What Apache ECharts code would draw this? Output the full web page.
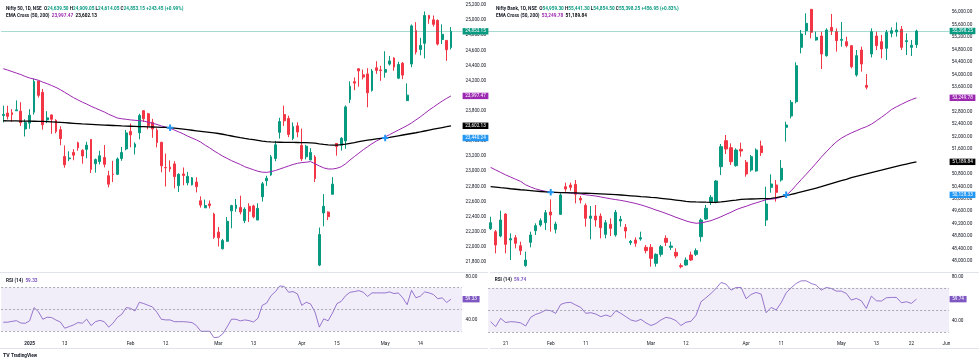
<!DOCTYPE html>
<html>
<head>
<meta charset="utf-8">
<script src="https://cdn.jsdelivr.net/npm/echarts@6.0.0/dist/echarts.min.js"></script>
<style>
html,body{margin:0;padding:0;background:#fff;}
#chart{width:980px;height:363px;}
</style>
</head>
<body>
<div id="chart"></div>
<script>
// ---------------- DATA ----------------
const niftyDates = ['12-23','12-24','12-26','12-27','12-30','12-31','01-01','01-02','01-03','01-06','01-07','01-08','01-09','01-10','01-13','01-14','01-15','01-16','01-17','01-20','01-21','01-22','01-23','01-24','01-27','01-28','01-29','01-30','01-31','02-01','02-03','02-04','02-05','02-06','02-07','02-10','02-11','02-12','02-13','02-14','02-17','02-18','02-19','02-20','02-21','02-24','02-25','02-27','02-28','03-03','03-04','03-05','03-06','03-07','03-10','03-11','03-12','03-13','03-17','03-18','03-19','03-20','03-21','03-24','03-25','03-26','03-27','03-28','04-01','04-02','04-03','04-04','04-07','04-08','04-09','04-11','04-15','04-16','04-17','04-21','04-22','04-23','04-24','04-25','04-28','04-29','04-30','05-02','05-05','05-06','05-07','05-08','05-09','05-12','05-13','05-14','05-15','05-16','05-19','05-20','05-21','05-22','05-23'];
const niftyFuture = ['05-26','05-27'];
const niftyOpen = [23738,23770,23775,23801,23796,23560,23637,23783,24196,24045,23679,23746,23674,23551,23195,23165,23250,23377,23277,23290,23421,23099,23128,23183,22941,22961,22960,23169,23296,23528,23319,23509,23802,23761,23649,23543,23383,23050,23055,23097,22809,22964,22847,22821,22857,22609,22516,22568,22433,22194,21974,22073,22476,22508,22521,22345,22536,22541,22354,22662,22874,22951,23169,23515,23751,23700,23434,23601,23342,23192,23150,23190,21758,22447,22460,22695,23368,23345,23402,23949,24186,24357,24277,24289,24070,24370,24342,24311,24419,24500,24233,24431,23935,24420,24864,24613,24694,25064,25005,24997,24744,24733,24639.5];
const niftyHigh = [23869,23867,23822,23938,23915,23689,23822,24226,24196,24089,23795,23751,23689,23596,23341,23264,23293,23391,23292,23391,23426,23169,23271,23347,23007,23138,23183,23322,23546,23633,23382,23762,23807,23773,23694,23569,23391,23235,23144,23133,22974,23050,22992,22924,22921,22668,22625,22613,22450,22261,22105,22394,22556,22633,22677,22522,22577,22558,22577,22858,22940,23216,23402,23708,23869,23736,23646,23649,23565,23350,23306,23214,22255,22698,22468,22923,23368,23452,23872,24190,24242,24359,24347,24365,24355,24457,24396,24589,24526,24509,24449,24447,24164,24944,24974,24767,25116,25071,25062,25011,24946,24737,24909.05];
const niftyLow = [23647,23685,23653,23800,23600,23460,23562,23751,23976,23551,23637,23496,23503,23344,23047,23134,23146,23272,23100,23171,22976,22982,23090,23051,22787,22857,22950,23139,23277,23318,23222,23423,23652,23556,23443,23316,22986,22798,22992,22774,22726,22814,22814,22812,22720,22518,22513,22508,22105,22005,21965,22068,22245,22464,22429,22314,22329,22377,22354,22599,22807,22939,23133,23433,23601,23452,23412,23450,23136,23158,23145,22858,21744,22271,22353,22695,23207,23273,23298,23903,24073,24119,24216,23847,24055,24290,24198,24238,24400,24331,24220,24220,23935,24378,24547,24535,24494,24953,24916,24666,24685,24462,24614.05];
const niftyClose = [23753,23727,23750,23813,23644,23645,23742,24188,24005,23616,23707,23689,23527,23432,23086,23176,23213,23312,23203,23345,23025,23155,23205,23092,22829,22957,23163,23249,23508,23482,23361,23739,23696,23603,23560,23381,23072,23045,23031,22929,22960,22945,22933,22913,22796,22553,22547,22545,22125,22119,22083,22337,22545,22553,22461,22498,22470,22397,22509,22834,22907,23191,23350,23658,23668,23487,23592,23519,23165,23332,23250,22904,22162,22536,22399,22829,23328,23437,23852,24125,24167,24329,24247,24039,24328,24336,24334,24347,24461,24380,24414,24273,24008,24925,24578,24666,25062,25020,24945,24684,24813,24609.7,24853.15];
const niftyEma50 = [24358,24340,24320,24300,24280,24255,24235,24221,24205,24180,24160,24135,24110,24080,24045,24010,23975,23945,23915,23890,23860,23835,23810,23785,23755,23730,23705,23695,23688,23680,23675,23670,23665,23650,23635,23620,23600,23585,23570,23545,23520,23495,23465,23440,23415,23385,23345,23310,23270,23235,23200,23170,23140,23115,23090,23060,23040,23020,23000,22988,22985,22995,23010,23030,23050,23070,23090,23105,23115,23120,23128,23100,23070,23045,23030,23030,23040,23060,23100,23150,23195,23240,23285,23325,23365,23400,23430,23455,23485,23515,23545,23575,23605,23640,23680,23720,23765,23810,23850,23890,23930,23965,23997.47];
const niftyEma200 = [23669,23668,23667,23666,23665,23664,23663,23662,23661,23660,23658,23655,23651,23647,23643,23639,23635,23631,23627,23624,23621,23618,23615,23612,23609,23606,23603,23600,23598,23596,23594,23592,23590,23588,23586,23584,23582,23580,23576,23570,23564,23557,23550,23543,23536,23529,23522,23515,23508,23500,23490,23478,23467,23456,23445,23435,23426,23418,23410,23400,23393,23388,23385,23384,23383,23382,23382,23381,23380,23379,23377,23372,23362,23355,23349,23346,23347,23352,23360,23370,23380,23391,23402,23411,23420,23428,23435,23441,23450,23460,23470,23480,23490,23500,23510,23521,23533,23545,23557,23568,23579,23590,23602.13];
const niftyRsi = [38.2,38.2,39,39.6,37.5,37.2,39.5,51.6,47.9,40.9,42.8,42.5,40.2,38.4,32.7,34.2,35.7,37.9,37.3,41,35.1,38.7,39.9,38.7,33.7,37.3,42.7,45.5,51.6,51,48.5,56.5,55.3,53.7,52.2,47.3,40.9,40.3,40.3,38.7,38.7,38.7,38.4,37.9,35.1,29.9,29.9,29.9,24,24.5,27.5,34,41,40.9,39.4,40.3,39.7,38.4,41.8,53.7,55.8,62.6,66.3,71.5,71,65.7,66.3,64.2,53.7,56.5,55,47.6,33.7,41.3,39.5,46.7,55.2,57.4,62.6,65.7,66.3,67.2,65.7,61.9,65.1,65.1,65.1,65.1,66,64.5,65.1,60.6,54.3,67.5,60.6,62.1,66,65.1,63.6,59.7,60.6,56.3,59.33];
const niftyCrossDates = ['02-13','05-02'];
const niftyCrossValues = [23576, 23440.24];
const niftyTickDates = ['01-01','01-13','02-01','02-12','03-03','03-13','04-01','04-15','05-02','05-14'];
const niftyTickLabels = ['2025','13','Feb','12','Mar','13','Apr','15','May','14'];

const bankDates = ['01-16','01-17','01-20'].concat(niftyDates.slice(20));
const bankFuture = ['05-26','05-27','05-28','05-29','05-30','06-02'];
const bankOpen = [49040,48944,48804,49512,48676,48751,48494,47851,48601,48976,49158,49233,49576,49019,49501,50391,50445,50466,50016,49791,49373,49448,49448,48858,49180,48837,49287,49083,48590,48676,48708,48440,48440,47926,48215,48729,48440,48279,47851,47872,48193,48215,48783,49351,49909,49909,51035,51871,51646,51067,51592,51174,50927,50895,51699,49319,50370,50445,50606,52300,52664,53125,54873,55409,56095,55109,55238,54605,55516,55377,55098,55055,54927,53983,54787,53650,54659,55238,55055,54841,55323,55366,55452,55055,54873,54959.3];
const bankHigh = [49426,48997,49619,49534,48890,48837,48622,48301,48944,49212,49373,49641,49984,49266,50177,50520,50520,50606,50091,49855,49769,49802,49534,49319,49373,49641,49448,49190,48676,48762,48944,48515,48547,48247,48515,48826,48622,48408,47926,48118,48301,48408,49373,49802,50123,50606,51764,52053,51785,51624,51807,51249,51410,51624,51871,50391,50788,50606,51249,52482,53179,54391,55431,55967,56098,55377,55377,55484,55945,55484,55688,55216,54948,54787,54895,54015,55484,55377,55270,55431,55516,55677,55559,55323,55109,55441.3];
const bankLow = [48998,48247,48762,48247,48033,48408,48193,47818,48440,48837,49105,48997,48944,48890,49480,50231,50263,49855,49855,49105,48697,49105,48729,48729,48804,48783,49105,48729,48515,48461,48654,48247,47818,47818,48140,48483,48354,48086,47765,47851,48000,48161,48622,49319,49802,49855,50767,51442,51088,51035,51356,50713,50874,50874,51378,49126,50198,49909,50552,51839,52589,53072,54680,55270,55163,55088,54176,54573,55270,54734,54895,54873,54198,53930,54090,53522,54551,54787,54519,54466,55195,55216,54787,54627,54594,54854.5];
const bankClose = [49233,48515,49319,48536,48719,48569,48333,48033,48837,49137,49298,49555,49480,49190,50123,50316,50370,50145,49962,49373,49448,49319,49073,49233,49051,49566,49341,48965,48633,48569,48751,48333,48086,48215,48461,48601,48483,48161,47818,48033,48033,48333,49319,49694,50048,50573,51678,51603,51195,51571,51539,50799,51356,51571,51485,49834,50477,50209,50981,52375,53104,54283,55302,55645,55356,55195,54659,55431,55399,55088,55130,54927,54251,54605,54337,53590,55377,54927,54820,55356,55409,55431,54873,55088,54941.3,55398.25];
const bankEma50 = [51013,50930,50850,50770,50700,50630,50560,50450,50380,50320,50275,50240,50210,50205,50200,50198,50190,50175,50155,50130,50110,50090,50060,50030,50000,49975,49950,49920,49885,49850,49805,49755,49700,49640,49590,49530,49470,49405,49350,49290,49245,49215,49225,49260,49300,49360,49425,49500,49570,49650,49710,49760,49820,49870,49920,49975,49990,50010,50060,50110,50260,50440,50620,50790,50970,51150,51340,51510,51680,51830,51950,52040,52120,52190,52260,52320,52400,52510,52620,52740,52870,52960,53040,53120,53190,53249.78];
const bankEma200 = [50391,50375,50358,50342,50325,50309,50292,50278,50264,50250,50236,50222,50210,50206,50202,50198,50194,50190,50185,50180,50173,50165,50157,50149,50141,50133,50124,50111,50098,50085,50072,50060,50048,50037,50018,49999,49980,49960,49940,49918,49905,49900,49896,49892,49889,49887,49900,49920,49940,49960,49984,49990,49995,50000,50005,50010,50016,50040,50070,50100,50140,50180,50222,50264,50306,50348,50390,50438,50486,50534,50582,50630,50680,50720,50760,50800,50840,50880,50920,50965,51005,51045,51085,51120,51155,51189.84];
const bankRsi = [39.4,34.9,42.4,38.6,39.4,39.1,38.3,35.5,43.3,46,47.5,49.9,49.3,46.9,55,56.5,56.8,54.4,52.3,46.9,47.5,46.3,43.9,45.4,43.9,49.3,46.9,43.9,40.9,39.7,41.5,38.3,35.9,37.7,40.9,43.3,42.4,40.3,35.9,38.9,39.7,45.1,57.4,61,64.9,69.4,74.8,73.3,67.9,70.3,70.3,60.1,64,65.8,64.3,47.5,52.3,49.9,56.5,65.5,70,73.9,76.3,76.3,73.9,72.4,67.9,70.3,69.4,67,67,64.9,58.9,60.4,58.3,51.4,62.5,58.3,58,61,61.3,61.3,56.5,57.4,55.9,59.74];
const bankCrossDates = ['02-01','04-15'];
const bankCrossValues = [50209, 50128.33];
const bankTickDates = ['01-21','02-01','02-11','03-03','03-12','04-01','04-11','05-02','05-13','05-22','06-02'];
const bankTickLabels = ['21','Feb','11','Mar','12','Apr','11','May','13','22','Jun'];

// ---------------- STYLE ----------------
const FONT = 'Roboto, "Noto Sans", "DejaVu Sans", sans-serif';
const FS = 4.7;
const TXT = '#131722';
const GREEN = '#089981', RED = '#f23645', PURPLE = '#9c27b0', BLACK = '#000000', BLUE = '#2196f3', RSIC = '#7e57c2';
const CLEAR = 'rgba(0,0,0,0)';

function fmt2(v){ return Number(v).toLocaleString('en-US',{minimumFractionDigits:2,maximumFractionDigits:2}); }
function last(a){ return a[a.length-1]; }
function boxLabel(text, bg){
  return {show:true, position:'end', distance:0.6, formatter:text, color:'#fff', backgroundColor:bg,
          padding:[0.9,2.6,0.5,2.6], fontSize:FS, fontFamily:FONT, lineHeight:5};
}
function boxLine(val, bg){
  return {yAxis:val, lineStyle:{color:CLEAR, width:1, type:'solid'}, label:boxLabel(fmt2(val), bg)};
}

const grids = [
  {left:1.1, top:-10, width:460.9, height:287},
  {left:1.1, top:272.3, width:460.9, height:65.4},
  {left:488.1, top:-0.14, width:460.9, height:273.6},
  {left:488.1, top:272.3, width:460.9, height:66.4}
].map(g => Object.assign(g, {containLabel:false, outerBoundsMode:'none'}));

function xAx(gi, cats, tickDates, tickLabels, show){
  const map = {};
  tickDates.forEach((d,i)=>{ map[d] = tickLabels[i]; });
  return {
    type:'category', gridIndex:gi, data:cats, boundaryGap:true, show:show,
    axisLine:{show:false}, axisTick:{show:false}, splitLine:{show:false},
    axisLabel:{
      show:show, margin: gi===1 ? 3.2 : 2.6, fontSize:FS, fontFamily:FONT, color:TXT,
      interval:(idx, val) => map.hasOwnProperty(val),
      formatter:(val) => map[val] === undefined ? '' : (map[val]==='2025' ? '{b|2025}' : map[val]),
      rich:{b:{fontWeight:'bold', fontSize:FS, fontFamily:FONT, color:TXT}}
    }
  };
}
function yAx(gi, min, max, interval, hideFn, margin){
  return {
    type:'value', gridIndex:gi, position:'right', min:min, max:max, interval:interval, scale:true,
    axisLine:{show:false}, axisTick:{show:false}, splitLine:{show:false},
    axisLabel:{margin:margin, fontSize:FS, fontFamily:FONT, color:TXT, align:'left',
      formatter:(v) => hideFn(v) ? '' : fmt2(v)}
  };
}

function priceSeries(xi, dates, o, h, l, c, e50, e200, crossD, crossV, barW){
  const candles = dates.map((d,i) => [o[i], c[i], l[i], h[i]]);
  const lastC = last(c);
  return [
    {type:'candlestick', xAxisIndex:xi, yAxisIndex:xi, data:candles, barWidth:barW, z:2,
     itemStyle:{color:GREEN, color0:RED, borderColor:GREEN, borderColor0:RED, borderWidth:1},
     markLine:{silent:true, symbol:['none','none'], animation:false,
       data:[{yAxis:lastC, lineStyle:{color:'rgba(8,153,129,0.45)', width:0.8, type:'solid'}, label:boxLabel(fmt2(lastC), GREEN)}]}},
    {type:'line', xAxisIndex:xi, yAxisIndex:xi, data:e50, showSymbol:false, symbol:'none', z:3,
     lineStyle:{color:PURPLE, width:1}, markLine:{silent:true, symbol:['none','none'], animation:false, data:[boxLine(last(e50), PURPLE)]}},
    {type:'line', xAxisIndex:xi, yAxisIndex:xi, data:e200, showSymbol:false, symbol:'none', z:3,
     lineStyle:{color:BLACK, width:1.3}, markLine:{silent:true, symbol:['none','none'], animation:false, data:[boxLine(last(e200), BLACK)]}},
    {type:'scatter', xAxisIndex:xi, yAxisIndex:xi, z:5,
     data:crossD.map((d,i)=>[d, crossV[i]]),
     symbol:'path://M3.5,0H6.5V3.5H10V6.5H6.5V10H3.5V6.5H0V3.5H3.5Z', symbolSize:6.5,
     itemStyle:{color:BLUE, opacity:1},
     markLine:{silent:true, symbol:['none','none'], animation:false, data:[boxLine(last(crossV), BLUE)]}}
  ];
}
function rsiSeries(xi, rsi){
  const dash = {color:'#8a8d96', type:[2,2], width:0.7};
  return [{
    type:'line', xAxisIndex:xi, yAxisIndex:xi, data:rsi, showSymbol:false, symbol:'none',
    lineStyle:{color:RSIC, width:0.8},
    markArea:{silent:true, itemStyle:{color:'rgba(126,87,194,0.1)'}, data:[[{yAxis:30},{yAxis:70}]]},
    markLine:{silent:true, symbol:['none','none'], animation:false,
      data:[{yAxis:70, lineStyle:dash, label:{show:false}},{yAxis:50, lineStyle:dash, label:{show:false}},{yAxis:30, lineStyle:dash, label:{show:false}},
            boxLine(last(rsi), RSIC)]}
  }];
}

function rich(){
  return {
    n:{color:TXT, fontSize:FS, fontFamily:FONT},
    g:{color:GREEN, fontSize:FS, fontFamily:FONT},
    p:{color:PURPLE, fontSize:FS, fontFamily:FONT},
    k:{color:BLACK, fontSize:FS, fontFamily:FONT},
    r:{color:RSIC, fontSize:FS, fontFamily:FONT},
    t:{color:TXT, fontSize:FS+0.6, fontFamily:FONT, fontWeight:'bold'}
  };
}
function header1(name, o, h, l, c){
  const n = c.length;
  const ch = c[n-1] - c[n-2];
  const pct = ch / c[n-2] * 100;
  return '{n|' + name + '}  {n|O}{g|' + fmt2(o[n-1]) + '} {n|H}{g|' + fmt2(h[n-1]) + '} {n|L}{g|' + fmt2(l[n-1]) +
    '} {n|C}{g|' + fmt2(c[n-1]) + '} {g|' + (ch>=0?'+':'') + fmt2(ch) + ' (' + (pct>=0?'+':'') + pct.toFixed(2) + '%)}';
}
function header2(e50, e200){
  return '{n|EMA Cross (50, 200)}  {p|' + fmt2(last(e50)) + '}  {k|' + fmt2(last(e200)) + '}';
}
function ttl(left, top, text){
  return {left:left, top:top, padding:0, text:text, textStyle:{fontSize:FS, fontFamily:FONT, rich:rich()}};
}

const option = {
  animation:false,
  backgroundColor:'#ffffff',
  grid:grids,
  xAxis:[
    xAx(0, niftyDates.concat(niftyFuture), niftyTickDates, niftyTickLabels, false),
    xAx(1, niftyDates.concat(niftyFuture), niftyTickDates, niftyTickLabels, true),
    xAx(2, bankDates.concat(bankFuture), bankTickDates, bankTickLabels, false),
    xAx(3, bankDates.concat(bankFuture), bankTickDates, bankTickLabels, true)
  ],
  yAxis:[
    yAx(0, 21600, 25400, 200, v => v < 21700 || v > 25300, 3.6),
    yAx(1, 24, 84, 4, v => !(Math.abs(v-40)<0.01 || Math.abs(v-80)<0.01), 3.6),
    yAx(2, 47600, 56400, 400, v => v < 47700 || v > 56300, 2.7),
    yAx(3, 24, 84, 4, v => !(Math.abs(v-40)<0.01 || Math.abs(v-80)<0.01), 2.7)
  ],
  title:[
    ttl(6, 6.6, header1('Nifty 50, 1D, NSE', niftyOpen, niftyHigh, niftyLow, niftyClose)),
    ttl(6, 13.3, header2(niftyEma50, niftyEma200)),
    ttl(6, 278.6, '{n|RSI (14)}  {r|' + fmt2(last(niftyRsi)) + '}'),
    ttl(496, 6.6, header1('Nifty Bank, 1D, NSE', bankOpen, bankHigh, bankLow, bankClose)),
    ttl(496, 13.3, header2(bankEma50, bankEma200)),
    ttl(494.7, 277.6, '{n|RSI (14)}  {r|' + fmt2(last(bankRsi)) + '}'),
    ttl(3, 353.5, '{t|TV} {n|TradingView}')
  ],
  graphic:[
    {type:'line', shape:{x1:0, y1:272.5, x2:488, y2:272.5}, style:{stroke:'#e0e3eb', lineWidth:1}, silent:true},
    {type:'line', shape:{x1:490, y1:272.5, x2:979, y2:272.5}, style:{stroke:'#e0e3eb', lineWidth:1}, silent:true},
    {type:'line', shape:{x1:0, y1:348.5, x2:488, y2:348.5}, style:{stroke:'#e0e3eb', lineWidth:1}, silent:true},
    {type:'line', shape:{x1:490, y1:348.5, x2:979, y2:348.5}, style:{stroke:'#e0e3eb', lineWidth:1}, silent:true}
  ],
  series:[].concat(
    priceSeries(0, niftyDates, niftyOpen, niftyHigh, niftyLow, niftyClose, niftyEma50, niftyEma200, niftyCrossDates, niftyCrossValues, 2.3),
    rsiSeries(1, niftyRsi),
    priceSeries(2, bankDates, bankOpen, bankHigh, bankLow, bankClose, bankEma50, bankEma200, bankCrossDates, bankCrossValues, 2.7),
    rsiSeries(3, bankRsi)
  )
};

const chart = echarts.init(document.getElementById('chart'), null, {renderer:'canvas'});
chart.setOption(option);
</script>
</body>
</html>
